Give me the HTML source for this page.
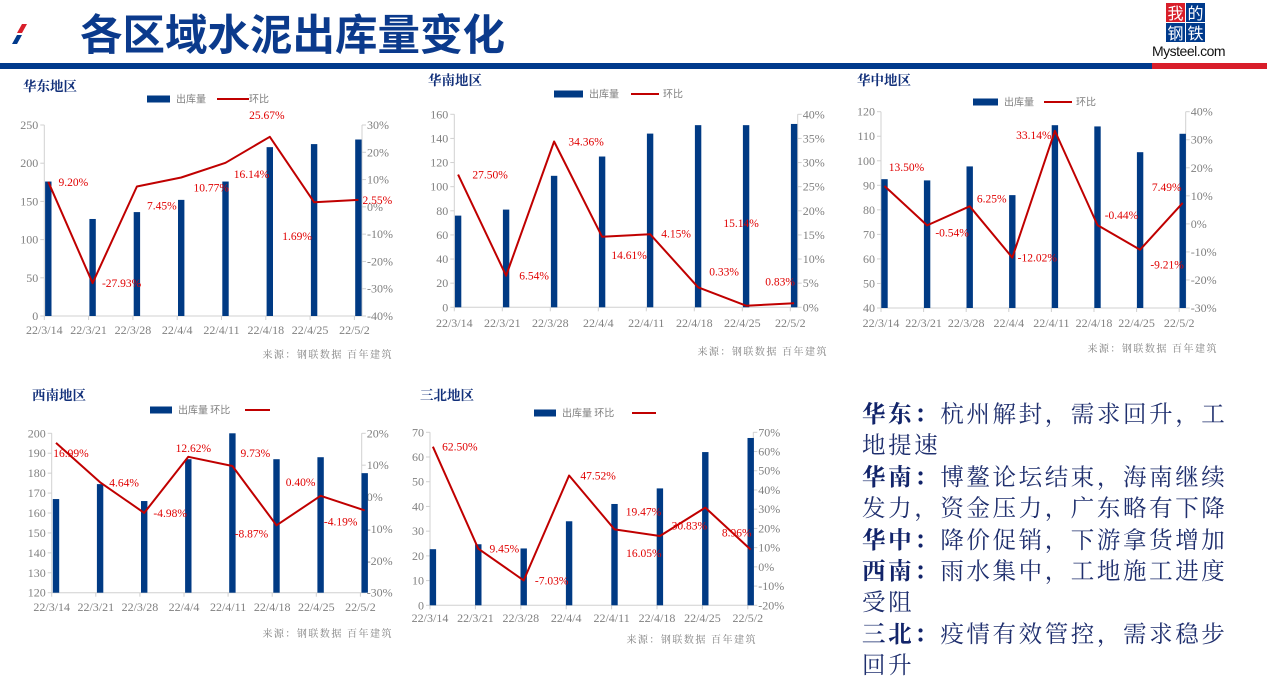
<!DOCTYPE html>
<html><head><meta charset="utf-8">
<style>
html,body{margin:0;padding:0;background:#fff;}
body{width:1267px;height:682px;position:relative;overflow:hidden;font-family:"Liberation Serif","Noto Serif CJK SC",serif;}
#notes{position:absolute;left:862px;top:400px;font-family:"Liberation Serif","Noto Serif CJK SC",serif;font-size:23.5px;line-height:31.4px;color:#1f2f6e;letter-spacing:2.6px;white-space:nowrap;}
#notes b{font-weight:bold;color:#12246a;}
</style></head><body>
<svg id="page" width="1267" height="682" xmlns="http://www.w3.org/2000/svg" style="position:absolute;left:0;top:0">
  <g>
    <path d="M22 24 L27 24 L22 33 L17 33 Z" fill="#d81e2a"/>
    <path d="M17 35 L22 35 L17 44 L12 44 Z" fill="#003a8c"/>
    <text x="80" y="50" font-family="'Liberation Sans','Noto Sans CJK SC',sans-serif" font-weight="bold" font-size="42.5" fill="#0b3a8c">各区域水泥出库量变化</text>
    <rect x="0" y="63" width="1152" height="6" fill="#003a8c"/>
    <rect x="1152" y="63" width="115" height="6" fill="#d81e2a"/>
    <g>
      <rect x="1166" y="3" width="19" height="19" fill="#d81e2a"/>
      <text x="1175.5" y="19" font-size="16" fill="#fff" text-anchor="middle" font-family="'Noto Sans CJK SC',sans-serif">我</text>
      <rect x="1186" y="3" width="19" height="19" fill="#003a8c"/>
      <text x="1195.5" y="19" font-size="16" fill="#fff" text-anchor="middle" font-family="'Noto Sans CJK SC',sans-serif">的</text>
      <rect x="1166" y="23" width="19" height="19" fill="#003a8c"/>
      <text x="1175.5" y="39" font-size="16" fill="#fff" text-anchor="middle" font-family="'Noto Sans CJK SC',sans-serif">钢</text>
      <rect x="1186" y="23" width="19" height="19" fill="#003a8c"/>
      <text x="1195.5" y="39" font-size="16" fill="#fff" text-anchor="middle" font-family="'Noto Sans CJK SC',sans-serif">铁</text>
      <text x="1152" y="56" font-size="14" fill="#111" font-family="'Liberation Sans',sans-serif" letter-spacing="-0.5">Mysteel.com</text>
    </g>
  </g>
  <g id="charts"></g>
</svg>
<div id="notes">
<div><b>华东：</b>杭州解封，需求回升，工<br>地提速</div>
<div><b>华南：</b>博鳌论坛结束，海南继续<br>发力，资金压力，广东略有下降</div>
<div><b>华中：</b>降价促销，下游拿货增加</div>
<div><b>西南：</b>雨水集中，工地施工进度<br>受阻</div>
<div><b>三北：</b>疫情有效管控，需求稳步<br>回升</div>
</div>
<script>
const categories = ["22/3/14","22/3/21","22/3/28","22/4/4","22/4/11","22/4/18","22/4/25","22/5/2"];
const eastVolume = [176,127,136,152,176,221,225,231];
const eastChange = [9.20,-27.93,7.45,10.77,16.14,25.67,1.69,2.55];
const southVolume = [76,81,109,125,144,151,151,152];
const southChange = [27.50,6.54,34.36,14.61,15.14,4.15,0.33,0.83];
const centralVolume = [92.5,92,97.7,86,114.5,114,103.5,111];
const centralChange = [13.50,-0.54,6.25,-12.02,33.14,-0.44,-9.21,7.49];
const southwestVolume = [167,174.5,166,187,200,187,188,180];
const southwestChange = [16.99,4.64,-4.98,12.62,9.73,-8.87,0.40,-4.19];
const northVolume = [22.7,24.7,23,34,41,47.3,62,67.7];
const northChange = [62.50,9.45,-7.03,47.52,19.47,16.05,30.83,8.96];
const eastLeftTicks = [0,50,100,150,200,250];
const eastRightTicks = [-40,-30,-20,-10,0,10,20,30];
const southLeftTicks = [0,20,40,60,80,100,120,140,160];
const southRightTicks = [0,5,10,15,20,25,30,35,40];
const centralLeftTicks = [40,50,60,70,80,90,100,110,120];
const centralRightTicks = [-30,-20,-10,0,10,20,30,40];
const southwestLeftTicks = [120,130,140,150,160,170,180,190,200];
const southwestRightTicks = [-30,-20,-10,0,10,20];
const northLeftTicks = [0,10,20,30,40,50,60,70];
const northRightTicks = [-20,-10,0,10,20,30,40,50,60,70];

const NS="http://www.w3.org/2000/svg";
const root=document.getElementById('charts');
function mk(tag,attrs,parent,txt){const e=document.createElementNS(NS,tag);for(const k in attrs)e.setAttribute(k,attrs[k]);if(txt!==undefined)e.textContent=txt;(parent||root).appendChild(e);return e;}

const layouts=[
 {key:'east',title:'华东地区',tx:23,ty:91,vol:eastVolume,chg:eastChange,lt:eastLeftTicks,rt:eastRightTicks,
  x0:44.3,x1:362,yt:125,yb:316,step:44.3,off:4,leg:{rx:147,ry:99,tx:176,lx1:217,lx2:249,ltx:249,combined:false},
  xl:334,src:{x:393,y:358},lab:[[25,0],[29,0],[25,19],[30,10],[26,11],[-3,-22],[-17,34],[19,0]]},
 {key:'south',title:'华南地区',tx:428,ty:85,vol:southVolume,chg:southChange,lt:southLeftTicks,rt:southRightTicks,
  x0:454.3,x1:797.7,yt:114.3,yb:307.3,step:48,off:3.8,leg:{rx:554,ry:94,tx:589,lx1:631,lx2:659,ltx:663,combined:false},
  xl:327,src:{x:828,y:355},lab:[[32,0],[28,0],[32,0],[27,18],[91,-11],[-22,-54],[-22,-34],[-14,-22]]},
 {key:'central',title:'华中地区',tx:857,ty:85,vol:centralVolume,chg:centralChange,lt:centralLeftTicks,rt:centralRightTicks,
  x0:881,x1:1185.7,yt:111.7,yb:308,step:42.6,off:3.5,leg:{rx:973,ry:102,tx:1004,lx1:1044,lx2:1072,ltx:1076,combined:false},
  xl:327,src:{x:1218,y:352},lab:[[22,-19],[25,7],[22,-8],[25,0],[-21,4],[24,-10],[27,15],[-16,-16]]},
 {key:'southwest',title:'西南地区',tx:32,ty:400,vol:southwestVolume,chg:southwestChange,lt:southwestLeftTicks,rt:southwestRightTicks,
  x0:51.7,x1:361.7,yt:433.3,yb:592.7,step:44.1,off:4.3,leg:{rx:150,ry:410,tx:178,lx1:245,lx2:270,combined:true},
  xl:611,src:{x:393,y:637},lab:[[15,10],[24,0],[26,0],[5,-9],[23,-13],[-25,8],[-20,-14],[-24,11]]},
 {key:'north',title:'三北地区',tx:420,ty:400,vol:northVolume,chg:northChange,lt:northLeftTicks,rt:northRightTicks,
  x0:430,x1:753.3,yt:432.3,yb:605.3,step:45.4,off:2.9,leg:{rx:534,ry:413,tx:562,lx1:632,lx2:656,combined:true},
  xl:622,src:{x:757,y:643},lab:[[27,0],[26,0],[28,0],[29,0],[29,-18],[-16,17],[-16,18],[-14,-17]]}
];

layouts.forEach(L=>{
  const g=mk('g',{});
  
  
  const lmin=L.lt[0],lmax=L.lt[L.lt.length-1],rmin=L.rt[0],rmax=L.rt[L.rt.length-1];
  const yL=v=>L.yb-(v-lmin)/(lmax-lmin)*(L.yb-L.yt);
  const yR=v=>L.yb-(v-rmin)/(rmax-rmin)*(L.yb-L.yt);
  const xT=i=>L.x0+i*L.step;
  const xC=i=>xT(i)+L.off;
  const t=mk('text',{x:L.tx,y:L.ty,'font-size':13.5,'font-weight':'bold',fill:'#12307a','font-family':"'Noto Serif CJK SC',serif"},g,L.title);
  
  
  const lg=mk('g',{},g);
  
  
  mk('rect',{x:L.leg.rx,y:L.leg.ry-3.5,width:(L.leg.tx-L.leg.rx-6),height:7,fill:'#003a84'},lg);
  mk('text',{x:L.leg.tx,y:L.leg.ry+3.5,'font-size':10,fill:'#808080','font-family':"'Noto Sans CJK SC',sans-serif"},lg,L.leg.combined?'出库量 环比':'出库量');
  mk('line',{x1:L.leg.lx1,x2:L.leg.lx2,y1:L.leg.ry,y2:L.leg.ry,stroke:'#c00000','stroke-width':2},lg);
  if(!L.leg.combined) mk('text',{x:L.leg.ltx,y:L.leg.ry+3.5,'font-size':10,fill:'#808080','font-family':"'Noto Sans CJK SC',sans-serif"},lg,'环比');
  const ax=mk('g',{stroke:'#d0d0d0','stroke-width':1},g);
  
  
  mk('line',{x1:L.x0,x2:L.x0,y1:L.yt,y2:L.yb},ax);
  mk('line',{x1:L.x1,x2:L.x1,y1:L.yt,y2:L.yb},ax);
  mk('line',{x1:L.x0,x2:L.x1,y1:L.yb,y2:L.yb},ax);
  L.lt.forEach(v=>{mk('line',{x1:L.x0-4,x2:L.x0,y1:yL(v),y2:yL(v)},ax);
    const tl=mk('text',{x:L.x0-6,y:yL(v)+4,'font-size':12,fill:'#808080','text-anchor':'end',stroke:'none'},g,String(v));
    
    });
  L.rt.forEach(v=>{mk('line',{x1:L.x1,x2:L.x1+4,y1:yR(v),y2:yR(v)},ax);
    const tr=mk('text',{x:L.x1+5,y:yR(v)+4,'font-size':12,fill:'#808080',stroke:'none'},g,v+'%');
    
    });
  categories.forEach((c,i)=>{mk('line',{x1:xT(i),x2:xT(i),y1:L.yb,y2:L.yb+4},ax);
    const tc=mk('text',{x:xT(i),y:L.xl,'font-size':12,fill:'#808080','text-anchor':'middle'},g,c);
    
    });
  L.vol.forEach((v,i)=>{const b=mk('rect',{x:xC(i)-3.2,y:yL(v),width:6.4,height:L.yb-yL(v),fill:'#003a84'},g);
    
    });
  const pts=L.chg.map((v,i)=>xC(i).toFixed(1)+','+yR(v).toFixed(1)).join(' ');
  const pl=mk('polyline',{points:pts,fill:'none',stroke:'#c00000','stroke-width':2,'stroke-linejoin':'round'},g);
  
  
  L.chg.forEach((v,i)=>{const o=L.lab[i];
    const dl=mk('text',{x:xC(i)+o[0],y:yR(v)+o[1]+4,'font-size':11.5,fill:'#e00000','text-anchor':'middle'},g,v.toFixed(2)+'%');
    
    });
  const s=mk('text',{x:L.src.x,y:L.src.y,'font-size':10,fill:'#808080','text-anchor':'end','letter-spacing':1.5,'font-family':"'Noto Serif CJK SC',serif"},g,'来源：钢联数据 百年建筑');
  
  
});
</script>
</body></html>
